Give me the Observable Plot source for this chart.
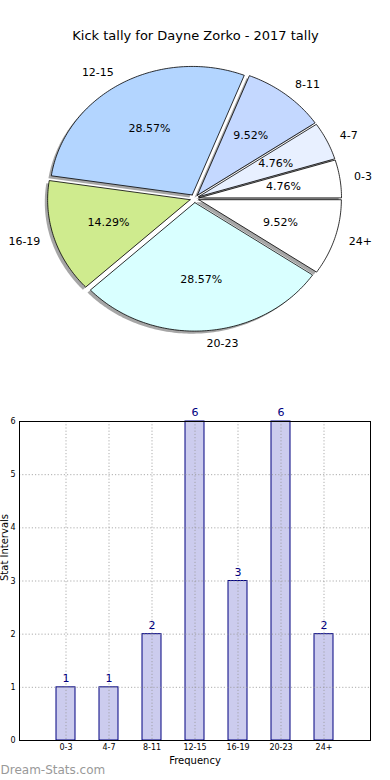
<!DOCTYPE html>
<html>
<head>
<meta charset="utf-8">
<script src="https://cdn.jsdelivr.net/npm/d3@7"></script>
<script src="https://cdn.jsdelivr.net/npm/@observablehq/plot@0.6"></script>
<style>
  html, body { margin: 0; padding: 0; background: #fff; }
  body { width: 390px; height: 780px; overflow: hidden; font-family: "DejaVu Sans", sans-serif; }
  #chart svg { display: block; }
</style>
</head>
<body>
<div id="chart"></div>
<script>
const title = "Kick tally for Dayne Zorko - 2017 tally";
const categories = ["0-3", "4-7", "8-11", "12-15", "16-19", "20-23", "24+"];
const counts = [1, 1, 2, 6, 3, 6, 2];
const sliceColors = ["#ffffff", "#e8f0ff", "#c4d8ff", "#b3d5ff", "#cfeb8e", "#d9ffff", "#ffffff"];
const yTicks = [0, 1, 2, 3, 4, 5, 6];
const yLabel = "Stat Intervals";
const xLabel = "Frequency";
const watermark = "Dream-Stats.com";

const explode = 0.032;
const total = d3.sum(counts);

// pie geometry in unit-circle data space (matplotlib: start at 0°, counterclockwise)
const slices = [];
const shadows = [];
const outerLabels = [];
const pctLabels = [];
let acc = 0;
categories.forEach((cat, i) => {
  const a0 = acc / total * 2 * Math.PI;
  acc += counts[i];
  const a1 = acc / total * 2 * Math.PI;
  const am = (a0 + a1) / 2;
  const ox = explode * Math.cos(am), oy = explode * Math.sin(am);
  const pts = [[ox, oy]];
  const n = Math.max(2, Math.ceil((a1 - a0) / (Math.PI / 180)));
  for (let k = 0; k <= n; k++) {
    const a = a0 + (a1 - a0) * k / n;
    pts.push([ox + Math.cos(a), oy + Math.sin(a)]);
  }
  pts.push([ox, oy]);
  pts.forEach(([x, y]) => {
    slices.push({key: cat, x, y, fill: sliceColors[i]});
    shadows.push({key: cat, x: x - 0.02, y: y - 0.02});
  });
  outerLabels.push({text: cat, x: ox + 1.1 * Math.cos(am), y: oy + 1.1 * Math.sin(am),
    anchor: Math.cos(am) >= 0 ? "start" : "end"});
  pctLabels.push({text: (counts[i] / total * 100).toFixed(2) + "%",
    x: ox + 0.6 * Math.cos(am), y: oy + 0.6 * Math.sin(am)});
});

const pie = Plot.plot({
  width: 390,
  height: 390,
  margin: 0,
  x: {domain: [-1, 1], range: [51.5, 336.5], axis: null},
  y: {domain: [-1, 1], range: [326.5, 69.5], axis: null},
  style: {fontFamily: "DejaVu Sans, sans-serif", background: "#fff"},
  marks: [
    Plot.line(shadows, {x: "x", y: "y", z: "key", fill: "#4d4d4d", fillOpacity: 0.5, stroke: "none", curve: "linear"}),
    Plot.line(slices, {x: "x", y: "y", z: "key", fill: "fill", stroke: "#000", strokeWidth: 0.8, curve: "linear"}),
    Plot.text(outerLabels.filter(d => d.anchor === "start"), {x: "x", y: "y", text: "text", textAnchor: "start", fontSize: 11, fill: "#000"}),
    Plot.text(outerLabels.filter(d => d.anchor === "end"), {x: "x", y: "y", text: "text", textAnchor: "end", fontSize: 11, fill: "#000"}),
    Plot.text(pctLabels, {x: "x", y: "y", text: "text", fontSize: 11, fill: "#000"}),
    Plot.text([title], {frameAnchor: "top", dy: 30, fontSize: 13, fill: "#000"})
  ]
});

const bars = categories.map((c, i) => ({cat: c, value: counts[i]}));

const barChart = Plot.plot({
  width: 390,
  height: 390,
  marginTop: 31,
  marginBottom: 40,
  marginLeft: 19,
  marginRight: 20,
  style: {fontFamily: "DejaVu Sans, sans-serif", background: "#fff", overflow: "visible"},
  x: {domain: categories, paddingInner: 0.557, paddingOuter: 0.78, align: 0.5, label: null, axis: null},
  y: {domain: [0, 6], label: null, axis: null},
  marks: [
    Plot.barY(bars, {x: "cat", y: "value", fill: "#ccccee", stroke: "#000080", strokeWidth: 1}),
    Plot.gridX(categories, {stroke: "#999", strokeOpacity: 0.8, strokeDasharray: "1.2,2"}),
    Plot.gridY(yTicks, {stroke: "#999", strokeOpacity: 0.8, strokeDasharray: "1.2,2"}),
    Plot.frame({stroke: "#000", strokeWidth: 1}),
    Plot.axisY(yTicks, {tickSize: 0, tickPadding: 4, fontSize: 8, label: null, color: "#000", tickFormat: "d"}),
    Plot.axisX(categories, {tickSize: 0, tickPadding: 4, fontSize: 8, label: null, color: "#000"}),
    Plot.text(bars, {x: "cat", y: "value", text: d => String(d.value), dy: -9, fontSize: 11, fill: "#000080"}),
    Plot.text([xLabel], {frameAnchor: "bottom", dy: 23, fontSize: 10, fill: "#000"}),
    Plot.text([yLabel], {frameAnchor: "left", dx: -15, rotate: -90, fontSize: 10, fill: "#000"}),
    Plot.text([watermark], {frameAnchor: "bottom-left", dx: -19, dy: 33, textAnchor: "start", fontSize: 12, fill: "#999999"})
  ]
});

document.getElementById("chart").append(pie, barChart);
</script>
</body>
</html>
